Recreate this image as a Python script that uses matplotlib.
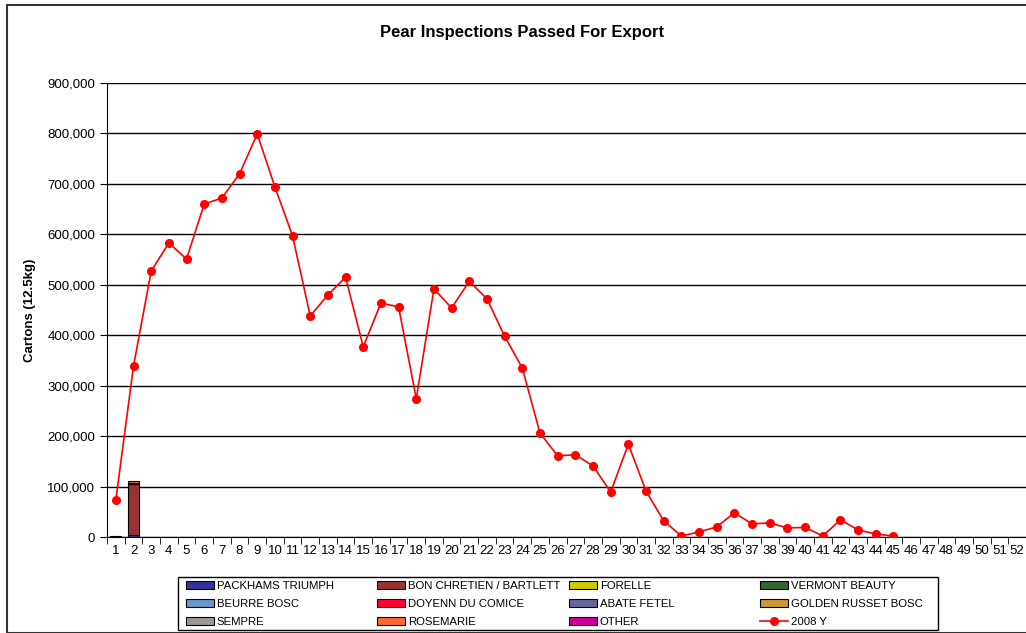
import matplotlib
matplotlib.use("Agg")
import matplotlib.pyplot as plt
import matplotlib.patches as patches
from matplotlib.ticker import FuncFormatter, MultipleLocator
import numpy as np

plt.rcParams['font.family'] = ['Liberation Sans', 'DejaVu Sans']

weeks = list(range(1, 53))

# stacked bar series (week -> cartons), legend order row by row
series_names = ["PACKHAMS TRIUMPH", "BON CHRETIEN / BARTLETT", "FORELLE", "VERMONT BEAUTY",
                "BEURRE BOSC", "DOYENN DU COMICE", "ABATE FETEL", "GOLDEN RUSSET BOSC",
                "SEMPRE", "ROSEMARIE", "OTHER"]
series_colors = ["#333399", "#993333", "#CCCC00", "#336633",
                 "#6699CC", "#FF0033", "#666699", "#CC9933",
                 "#999999", "#FF6633", "#CC0099"]
series_values = {
    "PACKHAMS TRIUMPH": {1: 1500, 2: 3000},
    "BON CHRETIEN / BARTLETT": {2: 102000},
    "ROSEMARIE": {2: 4000},
    "GOLDEN RUSSET BOSC": {2: 2500},
}

# 2008 line
line_weeks = list(range(1, 46))
line_2008 = [73000, 339000, 527000, 583000, 551000, 660000, 672000, 720000, 799000, 694000,
             597000, 438000, 480000, 515000, 377000, 464000, 456000, 274000, 492000, 454000,
             507000, 472000, 398000, 335000, 206000, 161000, 163000, 141000, 89000, 184000,
             91000, 32000, 2000, 10000, 20000, 48000, 26000, 28000, 18000, 19000,
             2000, 34000, 14000, 6000, 2000]

fig = plt.figure(figsize=(10.26, 6.33), dpi=100)
ax = fig.add_axes([107 / 1026, 1 - 537 / 633, 919 / 1026, 454 / 633])

x = np.array(weeks)
bottom = np.zeros(len(weeks))
handles = {}
for name, color in zip(series_names, series_colors):
    vals = np.array([series_values.get(name, {}).get(w, 0) for w in weeks], dtype=float)
    nz = vals > 0
    ax.bar(x[nz], vals[nz], width=0.62, bottom=bottom[nz], color=color,
           edgecolor='black', linewidth=0.8, zorder=3)
    handles[name] = patches.Patch(facecolor=color, edgecolor='black', linewidth=0.8)
    bottom += vals

ln, = ax.plot(line_weeks, line_2008, color='#FF0000', marker='o', markersize=5.5,
              linewidth=1.2, zorder=4, label="2008 Y")

ax.set_xlim(0.5, 52.5)
ax.set_ylim(0, 900000)
ax.yaxis.set_major_locator(MultipleLocator(100000))
ax.yaxis.set_major_formatter(FuncFormatter(lambda v, p: f"{int(v):,}"))
ax.set_xticks(weeks)
ax.set_xticks(np.arange(0.5, 53, 1), minor=True)
ax.tick_params(axis='x', which='major', length=0, labelsize=9.5, pad=6)
ax.tick_params(axis='x', which='minor', length=5, direction='out')
ax.tick_params(axis='y', length=5, direction='out', labelsize=9.5)
ax.grid(axis='y', color='black', linewidth=1, zorder=0)
ax.spines['top'].set_visible(False)
ax.spines['right'].set_visible(False)
ax.set_ylabel("Cartons (12.5kg)", fontsize=9.5, fontweight='bold', labelpad=8)
fig.text(522 / 1026, 1 - 32 / 633, "Pear Inspections Passed For Export",
         ha='center', va='center', fontsize=12, fontweight='bold')

# legend: one column at a time at the reference positions
all_names = series_names + ["2008 Y"]
all_handles = [handles[n] for n in series_names] + [ln]
col_x = [186, 377, 569, 760]
for c, cx in enumerate(col_x):
    hs = [all_handles[r * 4 + c] for r in range(3)]
    ls = [all_names[r * 4 + c] for r in range(3)]
    fig.legend(hs, ls, loc='upper left', bbox_to_anchor=(cx / 1026, 1 - 581 / 633),
               fontsize=8.2, frameon=False, handlelength=2.45, handleheight=0.6,
               handletextpad=0.26, labelspacing=0.7, borderpad=0, borderaxespad=0)
fig.patches.append(patches.Rectangle((178 / 1026, 1 - 630 / 633), 760 / 1026, 53 / 633,
                                     transform=fig.transFigure, fill=False,
                                     edgecolor='black', linewidth=1))

# outer chart border
fig.patches.append(patches.Rectangle((7 / 1026, 0), 1.1, 1 - 5 / 633, transform=fig.transFigure,
                                     fill=False, edgecolor='#333333', linewidth=1.5))

fig.savefig("out.png", dpi=100)
